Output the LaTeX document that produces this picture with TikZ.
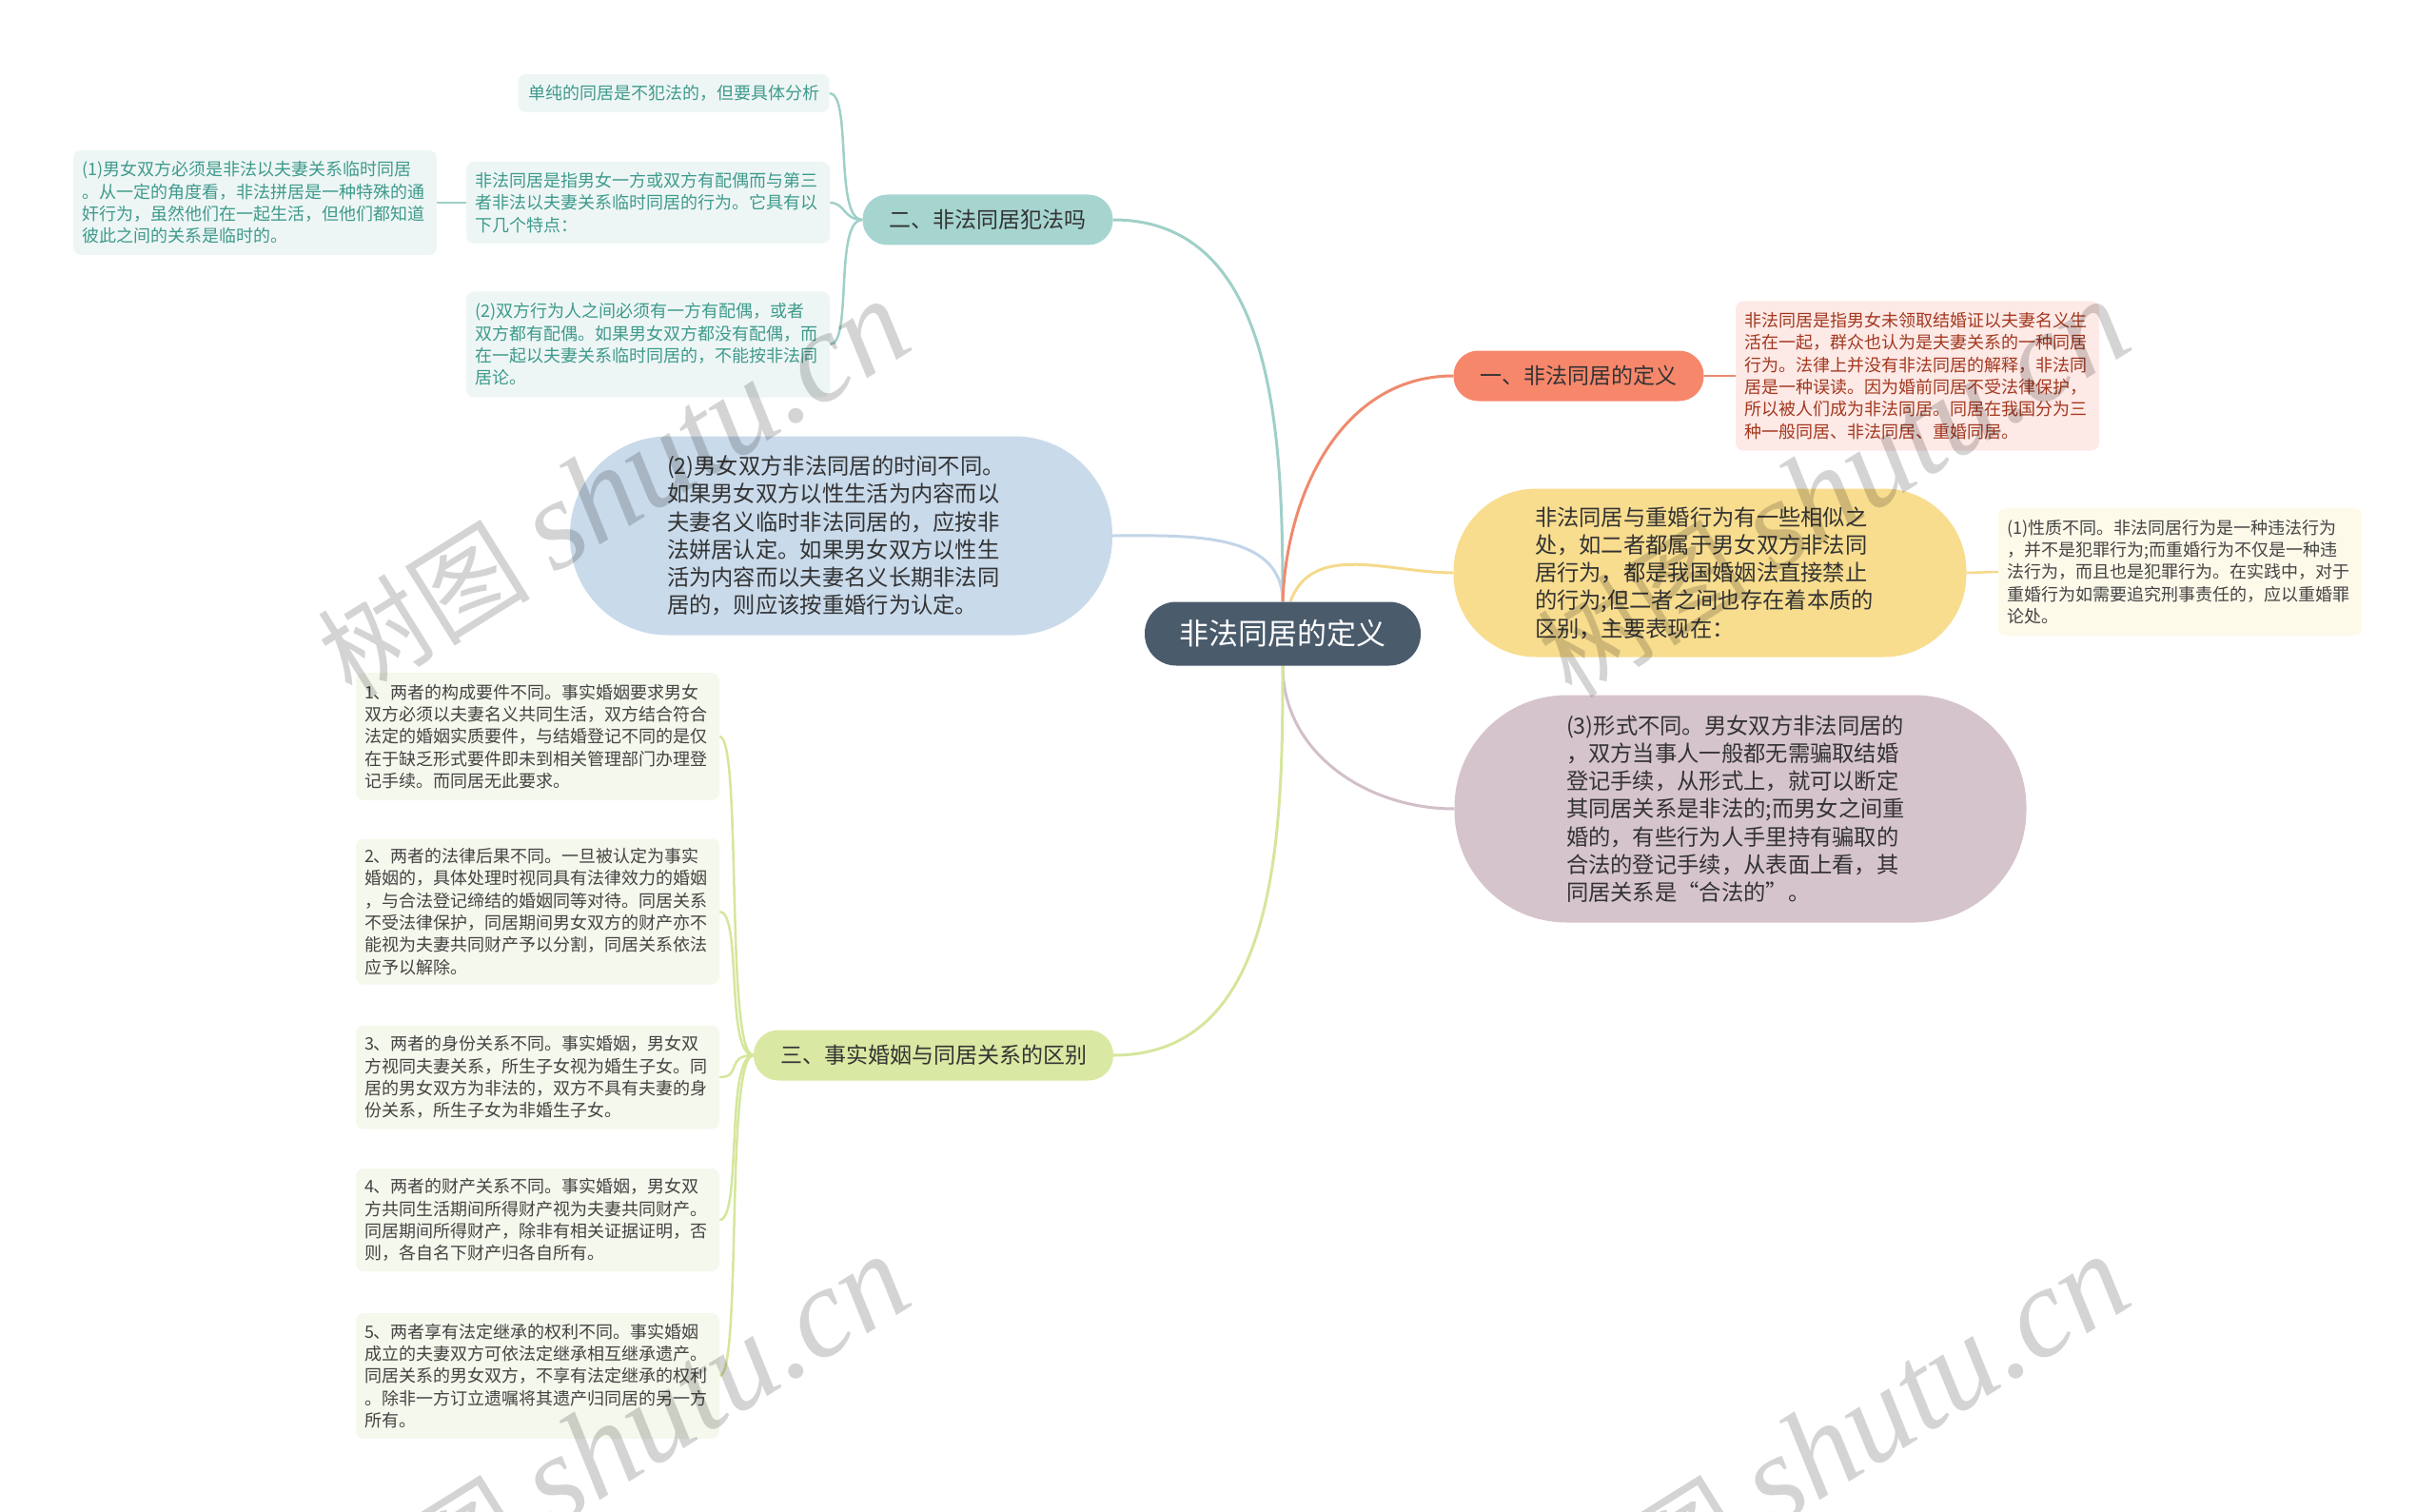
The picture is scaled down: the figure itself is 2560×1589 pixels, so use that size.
\documentclass[tikz,border=0pt]{standalone}
\usepackage{fontspec}
\setmainfont{Noto Sans CJK SC}
\newfontfamily\wmlatin{Liberation Serif}
\pgfdeclarelayer{background}
\pgfsetlayers{background,main}
\definecolor{cCentral}{HTML}{4A5B6C}
\definecolor{cTeal}{HTML}{A6D5D0}
\definecolor{cTealLine}{HTML}{9FD0C8}
\definecolor{cTealLeaf}{HTML}{EEF6F5}
\definecolor{cTealText}{HTML}{3E9A8C}
\definecolor{cOrange}{HTML}{F7876B}
\definecolor{cOrangeLine}{HTML}{EF8A6E}
\definecolor{cPinkLeaf}{HTML}{FDE9E6}
\definecolor{cPinkText}{HTML}{A3381F}
\definecolor{cYellow}{HTML}{F8DD8F}
\definecolor{cYellowLine}{HTML}{F5DA8C}
\definecolor{cYellowLeaf}{HTML}{FEFAEA}
\definecolor{cBlue}{HTML}{C9DAEB}
\definecolor{cBlueLine}{HTML}{C2D5E8}
\definecolor{cPurple}{HTML}{D6C4CD}
\definecolor{cPurpleLine}{HTML}{D2BFC9}
\definecolor{cGreen}{HTML}{D9E8A2}
\definecolor{cGreenLine}{HTML}{D5E69C}
\definecolor{cGreenLeaf}{HTML}{F5F8EC}
\definecolor{cText}{HTML}{333333}
\definecolor{cLeafText}{HTML}{444444}
\tikzset{
  central/.style={rounded corners=33pt, fill=cCentral, text=white, minimum width=290pt, minimum height=67pt, font=\fontsize{31}{36}\selectfont},
  branch/.style={rounded corners=26pt, minimum height=53pt, inner xsep=28pt, inner ysep=2pt, text=cText, font=\fontsize{23}{28}\selectfont},
  bignode/.style={text=cText, align=left, inner ysep=4pt, font=\fontsize{23.3}{29.3}\selectfont},
  leaf/.style={rounded corners=8pt, align=left, text width=364pt, inner xsep=9pt, inner ysep=4pt, font=\fontsize{18}{23.3}\selectfont},
  link/.style={line width=3pt},
  leaflink/.style={line width=2.5pt},
  wm/.style={text=black, text opacity=0.17, rotate=32, anchor=center, inner sep=0pt}
}
\begin{document}
\begin{tikzpicture}[x=1pt,y=-1pt]
\useasboundingbox (0,0) rectangle (2560,1589);

% central
\node[central] (c) at (1348,666) {非法同居的定义};

% branches
\node[branch, fill=cTeal] (b2) at (1038,231) {二、非法同居犯法吗};
\node[branch, fill=cOrange] (b1) at (1659,395) {一、非法同居的定义};
\node[branch, fill=cGreen] (b3) at (981,1109) {三、事实婚姻与同居关系的区别};

\node[bignode, fill=cYellow, rounded corners=87pt, text width=368pt, inner xsep=85.5pt, minimum height=177pt] (yl) at (1797,602) {非法同居与重婚行为有一些相似之\\处，如二者都属于男女双方非法同\\居行为，都是我国婚姻法直接禁止\\的行为;但二者之间也存在着本质的\\区别，主要表现在：};

\node[bignode, fill=cPurple, rounded corners=118pt, text width=366pt, inner xsep=117.5pt, minimum height=239pt] (pu) at (1829,850) {(3)形式不同。男女双方非法同居的\\，双方当事人一般都无需骗取结婚\\登记手续，从形式上，就可以断定\\其同居关系是非法的;而男女之间重\\婚的，有些行为人手里持有骗取的\\合法的登记手续，从表面上看，其\\同居关系是“合法的”。};

\node[bignode, fill=cBlue, rounded corners=103pt, text width=366pt, inner xsep=102pt, minimum height=209pt] (bl) at (884,563) {(2)男女双方非法同居的时间不同。\\如果男女双方以性生活为内容而以\\夫妻名义临时非法同居的，应按非\\法姘居认定。如果男女双方以性生\\活为内容而以夫妻名义长期非法同\\居的，则应该按重婚行为认定。};

% teal leaves
\node[rounded corners=8pt, fill=cTealLeaf, text=cTealText, inner xsep=10.5pt, minimum height=40pt, font=\fontsize{18}{23.3}\selectfont] (t1) at (708,98) {单纯的同居是不犯法的，但要具体分析};
\node[leaf, fill=cTealLeaf, text=cTealText, minimum height=86pt] (t2) at (681,213) {非法同居是指男女一方或双方有配偶而与第三\\者非法以夫妻关系临时同居的行为。它具有以\\下几个特点：};
\node[leaf, fill=cTealLeaf, text=cTealText, minimum height=111pt] (t3) at (681,362) {(2)双方行为人之间必须有一方有配偶，或者\\双方都有配偶。如果男女双方都没有配偶，而\\在一起以夫妻关系临时同居的，不能按非法同\\居论。};
\node[leaf, fill=cTealLeaf, text=cTealText, minimum height=110pt] (t4) at (268,213) {(1)男女双方必须是非法以夫妻关系临时同居\\。从一定的角度看，非法拼居是一种特殊的通\\奸行为，虽然他们在一起生活，但他们都知道\\彼此之间的关系是临时的。};

% orange leaf
\node[leaf, fill=cPinkLeaf, text=cPinkText, minimum height=157pt] (o1) at (2015,395) {非法同居是指男女未领取结婚证以夫妻名义生\\活在一起，群众也认为是夫妻关系的一种同居\\行为。法律上并没有非法同居的解释，非法同\\居是一种误读。因为婚前同居不受法律保护，\\所以被人们成为非法同居。同居在我国分为三\\种一般同居、非法同居、重婚同居。};

% yellow leaf
\node[leaf, fill=cYellowLeaf, text=cLeafText, minimum height=134pt] (y1) at (2291,601) {(1)性质不同。非法同居行为是一种违法行为\\，并不是犯罪行为;而重婚行为不仅是一种违\\法行为，而且也是犯罪行为。在实践中，对于\\重婚行为如需要追究刑事责任的，应以重婚罪\\论处。};

% green leaves
\node[leaf, fill=cGreenLeaf, text=cLeafText, minimum height=134pt] (g1) at (565,774) {1、两者的构成要件不同。事实婚姻要求男女\\双方必须以夫妻名义共同生活，双方结合符合\\法定的婚姻实质要件，与结婚登记不同的是仅\\在于缺乏形式要件即未到相关管理部门办理登\\记手续。而同居无此要求。};
\node[leaf, fill=cGreenLeaf, text=cLeafText, minimum height=153pt] (g2) at (565,958) {2、两者的法律后果不同。一旦被认定为事实\\婚姻的，具体处理时视同具有法律效力的婚姻\\，与合法登记缔结的婚姻同等对待。同居关系\\不受法律保护，同居期间男女双方的财产亦不\\能视为夫妻共同财产予以分割，同居关系依法\\应予以解除。};
\node[leaf, fill=cGreenLeaf, text=cLeafText, minimum height=109pt] (g3) at (565,1132) {3、两者的身份关系不同。事实婚姻，男女双\\方视同夫妻关系，所生子女视为婚生子女。同\\居的男女双方为非法的，双方不具有夫妻的身\\份关系，所生子女为非婚生子女。};
\node[leaf, fill=cGreenLeaf, text=cLeafText, minimum height=108pt] (g4) at (565,1282) {4、两者的财产关系不同。事实婚姻，男女双\\方共同生活期间所得财产视为夫妻共同财产。\\同居期间所得财产，除非有相关证据证明，否\\则，各自名下财产归各自所有。};
\node[leaf, fill=cGreenLeaf, text=cLeafText, minimum height=132pt] (g5) at (565,1446) {5、两者享有法定继承的权利不同。事实婚姻\\成立的夫妻双方可依法定继承相互继承遗产。\\同居关系的男女双方，不享有法定继承的权利\\。除非一方订立遗嘱将其遗产归同居的另一方\\所有。};

% connectors
\begin{pgfonlayer}{background}
\draw[link, cTealLine] (c.north) to[out=90,in=0] (b2.east);
\draw[link, cBlueLine] (c.north) to[out=90,in=0] (bl.east);
\draw[link, cOrangeLine] (c.north) to[out=88,in=180] (b1.west);
\draw[link, cYellowLine] ([xshift=8pt]c.north) to[out=70,in=180] (yl.west);
\draw[link, cPurpleLine] (c.south) to[out=-90,in=180] (pu.west);
\draw[link, cGreenLine] (c.south) to[out=-90,in=0] (b3.east);

\draw[leaflink, cTealLine] (b2.west) .. controls +(-30,0) and +(24,0) .. (t1.east);
\draw[leaflink, cTealLine] (b2.west) .. controls +(-20,0) and +(16,0) .. (t2.east);
\draw[leaflink, cTealLine] (b2.west) .. controls +(-30,0) and +(24,0) .. (t3.east);
\draw[leaflink, cTealLine] (t2.west) -- (t4.east);
\draw[leaflink, cOrangeLine] (b1.east) -- (o1.west);
\draw[leaflink, cYellowLine] (yl.east) -- (y1.west);
\draw[leaflink, cGreenLine] (b3.west) .. controls +(-30,0) and +(24,0) .. (g1.east);
\draw[leaflink, cGreenLine] (b3.west) .. controls +(-30,0) and +(24,0) .. (g2.east);
\draw[leaflink, cGreenLine] (b3.west) .. controls +(-30,0) and +(24,0) .. (g3.east);
\draw[leaflink, cGreenLine] (b3.west) .. controls +(-30,0) and +(24,0) .. (g4.east);
\draw[leaflink, cGreenLine] (b3.west) .. controls +(-30,0) and +(24,0) .. (g5.east);
\end{pgfonlayer}

% watermarks
\node[wm] (w1) at (645,514) {\fontsize{112}{120}\selectfont 树图 {\wmlatin\itshape\fontsize{134}{140}\selectfont shutu.cn}};
\node[wm] (w2) at (1927,514) {\fontsize{112}{120}\selectfont 树图 {\wmlatin\itshape\fontsize{134}{140}\selectfont shutu.cn}};
\node[wm] (w3) at (645,1518) {\fontsize{112}{120}\selectfont 树图 {\wmlatin\itshape\fontsize{134}{140}\selectfont shutu.cn}};
\node[wm] (w4) at (1927,1518) {\fontsize{112}{120}\selectfont 树图 {\wmlatin\itshape\fontsize{134}{140}\selectfont shutu.cn}};
\end{tikzpicture}
\end{document}
